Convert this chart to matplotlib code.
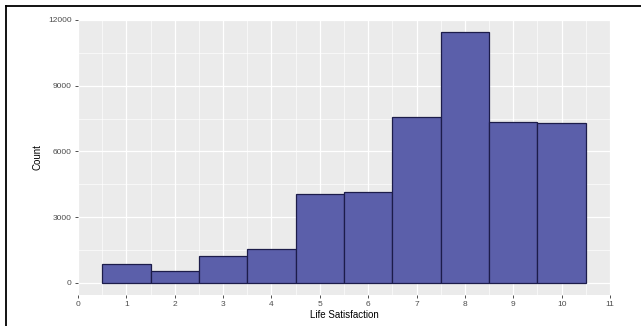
import matplotlib
matplotlib.use("Agg")
import matplotlib.pyplot as plt
from matplotlib.lines import Line2D
import numpy as np

plt.rcParams["font.family"] = ["Liberation Sans", "DejaVu Sans"]

scores = [1, 2, 3, 4, 5, 6, 7, 8, 9, 10]
counts = [860, 550, 1220, 1560, 4060, 4150, 7570, 11450, 7340, 7310]
x_ticks = [0, 1, 2, 3, 4, 5, 6, 7, 8, 9, 10, 11]
y_ticks = [0, 3000, 6000, 9000, 12000]

W, H = 641, 326
fig = plt.figure(figsize=(W / 100, H / 100), dpi=100)
fig.patch.set_facecolor("white")

l, r, t, b = 78, 610, 20, 295
ax = fig.add_axes([l / W, 1 - b / H, (r - l) / W, (b - t) / H])
ax.set_facecolor("#EBEBEB")

ax.bar(scores, counts, width=1.0, color="#5B5FAA", edgecolor="#1C1C4A",
       linewidth=0.9, zorder=3)

ax.set_xlim(0, 11)
ax.set_ylim(-550, 12000)
ax.set_xticks(x_ticks)
ax.set_yticks(y_ticks)
ax.set_xticks(np.arange(0.5, 11, 1.0), minor=True)
ax.set_yticks(np.arange(1500, 12000, 3000), minor=True)
ax.grid(which="major", color="white", linewidth=0.9, zorder=0)
ax.grid(which="minor", color="white", linewidth=0.45, zorder=0)
ax.set_axisbelow(True)
for s in ax.spines.values():
    s.set_visible(False)
ax.tick_params(which="major", length=2.5, width=0.6, color="#333333",
               labelsize=6, labelcolor="#4D4D4D", pad=2)
ax.tick_params(which="minor", length=0)
ax.set_xlabel("Life Satisfaction", fontsize=7, color="black", labelpad=1)
ax.set_ylabel("Count", fontsize=7, color="black", labelpad=4)

# outer frame
fig.add_artist(Line2D([6 / W, 6 / W], [0, 1 - 6 / H], color="black", lw=1.3,
                      transform=fig.transFigure))
fig.add_artist(Line2D([6 / W, 1], [1 - 6 / H, 1 - 6 / H], color="black", lw=1.3,
                      transform=fig.transFigure))

fig.savefig("out.png", dpi=100)
